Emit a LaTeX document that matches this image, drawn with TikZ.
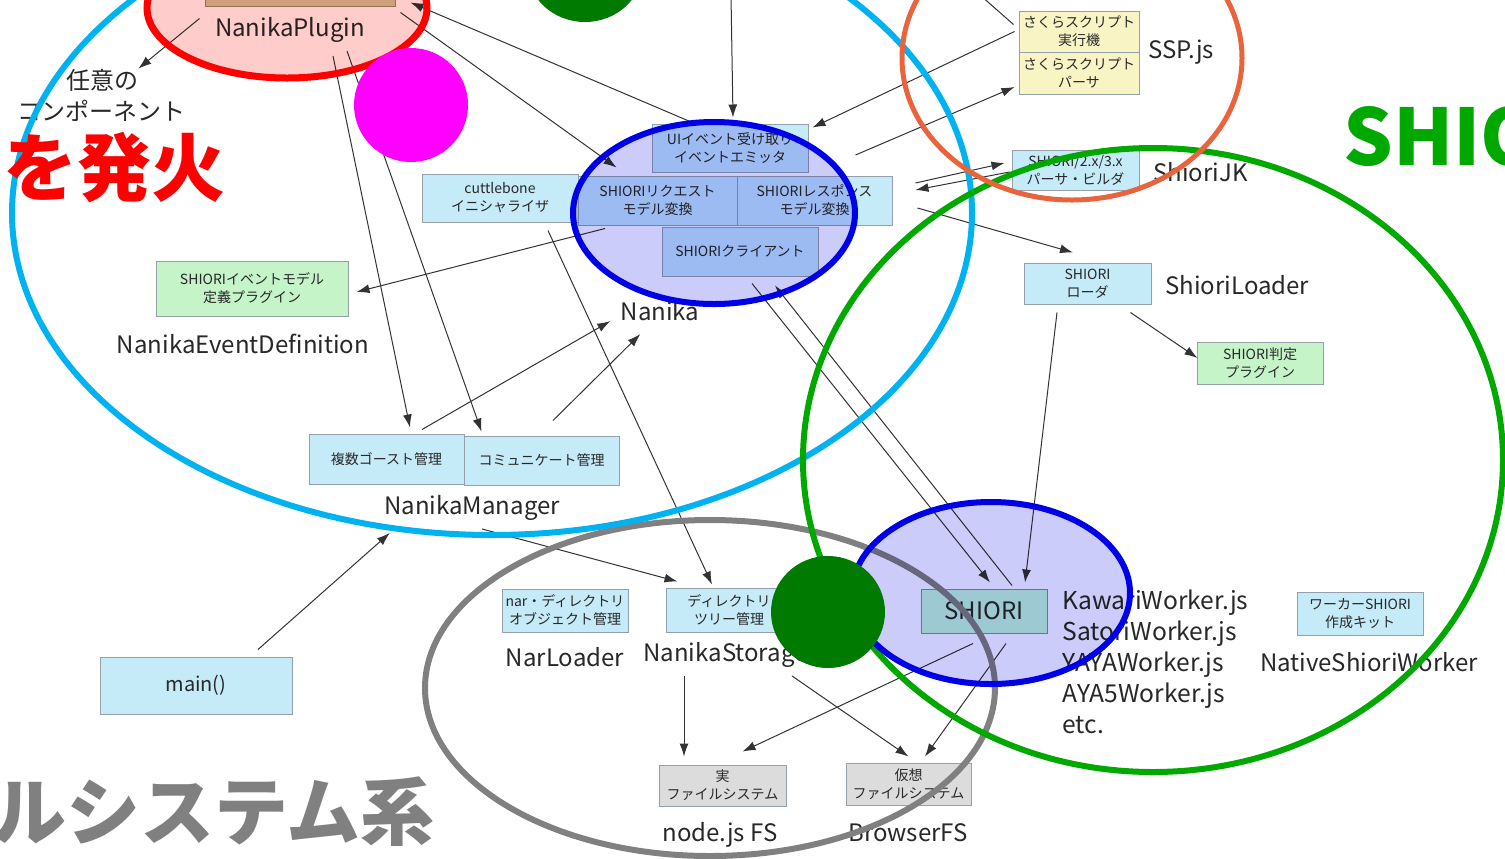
\documentclass[tikz,border=0pt]{standalone}
\usepackage{fontspec}
\setmainfont{Noto Sans CJK JP}
\usetikzlibrary{arrows.meta}
\definecolor{cyanE}{RGB}{0,178,240}
\definecolor{redE}{RGB}{255,0,0}
\definecolor{blueE}{RGB}{0,0,230}
\definecolor{orangeE}{RGB}{232,100,60}
\definecolor{greenE}{RGB}{0,168,0}
\definecolor{grayE}{RGB}{128,128,128}
\definecolor{magE}{RGB}{255,0,255}
\definecolor{dkgreen}{RGB}{0,122,0}
\definecolor{boxcyan}{RGB}{197,234,248}
\definecolor{boxline}{RGB}{150,160,170}
\definecolor{boxgreen}{RGB}{196,244,200}
\definecolor{boxyellow}{RGB}{248,244,196}
\definecolor{boxgray}{RGB}{220,220,220}
\definecolor{boxtan}{RGB}{208,200,156}
\definecolor{boxteal}{RGB}{197,252,216}
\definecolor{overblue}{RGB}{204,204,250}
\definecolor{overpink}{RGB}{255,204,204}
\definecolor{txt}{RGB}{40,40,40}
\begin{document}
\begin{tikzpicture}[x=0.5pt,y=-0.5pt,
  box/.style={draw=boxline, line width=0.5pt, fill=boxcyan, inner sep=0pt, align=center,
    font=\fontsize{7pt}{9pt}\selectfont, text=txt},
  lab/.style={inner sep=0pt, font=\fontsize{12pt}{14pt}\selectfont, text=txt},
  arr/.style={draw=black!80, line width=0.5pt, -{Latex[length=6.5pt,width=4.5pt]}},
  plain/.style={draw=black!80, line width=0.5pt},
  bigE/.style={line width=3pt},
  bigtext/.style={inner sep=0pt, font=\fontsize{37pt}{40pt}\selectfont\bfseries}
]
\useasboundingbox (0,0) rectangle (1505,858);
\fill[white] (0,0) rectangle (1505,858);

% ---------- boxes ----------
\node[box, fill=boxtan, draw=boxtan!70!black, minimum width=95pt, minimum height=23pt] (plugbox) at (300,-17) {};
\node[box, minimum width=78pt, minimum height=24pt] (ui) at (730,148) {UIイベント受け取り\\イベントエミッタ};
\node[box, minimum width=78pt, minimum height=24pt] (cuttle) at (500,198) {cuttlebone\\イニシャライザ};
\node[box, minimum width=79.5pt, minimum height=24.5pt] (req) at (657.5,200.5) {SHIORIリクエスト\\モデル変換};
\node[box, minimum width=77.5pt, minimum height=24.5pt] (res) at (814.5,200.5) {SHIORIレスポンス\\モデル変換};
\node[box, minimum width=78pt, minimum height=24.5pt] (client) at (740,251.5) {SHIORIクライアント};
\node[box, fill=boxgreen, minimum width=96pt, minimum height=27.5pt] (evdef) at (252,288.5) {SHIORIイベントモデル\\定義プラグイン};
\node[box, minimum width=77.5pt, minimum height=25pt] (ghost) at (386.5,459) {複数ゴースト管理};
\node[box, minimum width=77.5pt, minimum height=24.5pt] (comm) at (541.5,460.5) {コミュニケート管理};
\node[box, minimum width=96pt, minimum height=28.5pt, font=\fontsize{10pt}{12pt}\selectfont] (main) at (196,685.5) {main()};
\node[box, minimum width=63pt, minimum height=21.5pt] (nar) at (565,610.5) {nar・ディレクトリ\\オブジェクト管理};
\node[box, minimum width=63pt, minimum height=22pt] (dir) at (729,610) {ディレクトリ\\ツリー管理};
\node[box, fill=boxgray, minimum width=63.5pt, minimum height=20.5pt] (realfs) at (722.5,785.5) {実\\ファイルシステム};
\node[box, fill=boxgray, minimum width=62.5pt, minimum height=21pt] (virtfs) at (908.5,784) {仮想\\ファイルシステム};
\node[box, fill=boxteal, draw=black!45, minimum width=63pt, minimum height=22pt, font=\fontsize{12pt}{14pt}\selectfont] (shiori) at (984,611) {SHIORI};
\node[box, minimum width=63pt, minimum height=21.5pt] (kit) at (1360,613.5) {ワーカーSHIORI\\作成キット};
\node[box, minimum width=63.5pt, minimum height=20.5pt] (loader) at (1087.5,283.5) {SHIORI\\ローダ};
\node[box, fill=boxgreen, minimum width=63pt, minimum height=21pt] (judge) at (1260,363) {SHIORI判定\\プラグイン};
\node[box, minimum width=63.5pt, minimum height=20pt] (jk) at (1075.5,170) {SHIORI/2.x/3.x\\パーサ・ビルダ};
\node[box, fill=boxyellow, minimum width=60pt, minimum height=20.5pt] (sak1) at (1079,31.5) {さくらスクリプト\\実行機};
\node[box, fill=boxyellow, minimum width=60pt, minimum height=21pt] (sak2) at (1079,73) {さくらスクリプト\\パーサ};

% ---------- labels ----------
\node[lab] (lplug) at (290,30) {NanikaPlugin};
\node[lab] (nin1) at (102,80) {任意の};
\node[lab] (nin2) at (102,111) {コンポーネント};
\node[lab] (lnanika) at (660,311) {Nanika};
\node[lab] (levdef) at (243,344) {NanikaEventDefinition};
\node[lab] (lmgr) at (472,508) {NanikaManager};
\node[lab] (lnar) at (565,657) {NarLoader};
\node[lab, anchor=west] (lstor) at (643,655) {NanikaStorage};
\node[lab] (lnode) at (720,835) {node.js FS};
\node[lab] (lbfs) at (908,833) {BrowserFS};
\node[lab, anchor=west, align=left, font=\fontsize{12.3pt}{15.5pt}\selectfont] (workers) at (1062,662) {KawariWorker.js\\SatoriWorker.js\\YAYAWorker.js\\AYA5Worker.js\\etc.};
\node[lab, anchor=west] (lnative) at (1260,662) {NativeShioriWorker};
\node[lab, anchor=west] (lloader) at (1165,285) {ShioriLoader};
\node[lab, anchor=west] (ljk) at (1153,172) {ShioriJK};
\node[lab, anchor=west] (lssp) at (1148,52) {SSP.js};

\coordinate (ctop) at (731,-5);
\coordinate (ctop2) at (980,-5);

% ---------- connectors ----------
\draw[arr] ([xshift=-2.5pt,yshift=-6pt]plugbox.south west) -- (nin1.north east);
\draw[arr] ([xshift=-20pt,yshift=1pt]ui.north) -- ([xshift=7.5pt,yshift=2pt]plugbox.south east);
\draw[arr] ([xshift=2.5pt,yshift=-3pt]plugbox.south east) -- ([xshift=19.5pt,yshift=4pt]req.north west);
\draw[arr] ([xshift=21.5pt,yshift=-6.5pt]lplug.south) -- ([xshift=11.75pt,yshift=3pt]ghost.north);
\draw[arr] ([xshift=28.5pt,yshift=-4pt]lplug.south) -- ([xshift=9pt,yshift=2pt]comm.north west);
\draw[arr] ([xshift=-26.25pt,yshift=-1.5pt]req.south) -- ([xshift=4pt,yshift=-1.75pt]evdef.east);
\draw[arr] ([xshift=17.75pt,yshift=2pt]ghost.north) -- ([xshift=-5pt]lnanika.south west);
\draw[arr] ([xshift=5.75pt,yshift=7.5pt]comm.north) -- ([xshift=10pt,yshift=-6.5pt]lnanika.south west);
\draw[arr] ([xshift=24pt,yshift=-4pt]cuttle.south) -- ([xshift=-8.5pt,yshift=1.5pt]dir.north);
\draw[arr] (ctop) -- ([xshift=1.5pt,yshift=3pt]ui.north);
\draw[arr] ([xshift=-2pt]sak1.west) -- ([xshift=2pt,yshift=-2pt]ui.north east);
\draw[arr] ([xshift=23.5pt,yshift=-3.5pt]ui.east) -- ([xshift=-2pt,yshift=-7pt]sak2.west);
\draw[plain] (ctop2) -- ([xshift=-2.5pt,yshift=3.5pt]sak1.west);
\draw[arr] ([xshift=11.5pt,yshift=8.75pt]res.east) -- ([xshift=-3.5pt,yshift=3.5pt]jk.west);
\draw[arr] ([xshift=-1pt,yshift=-1pt]jk.west) -- ([xshift=11.5pt,yshift=5.25pt]res.east);
\draw[arr] ([xshift=12.5pt,yshift=-3.75pt]res.east) -- ([xshift=-7.25pt,yshift=5pt]loader.north);
\draw[arr] ([xshift=-10.5pt,yshift=-4pt]loader.south east) -- ([xshift=0.5pt,yshift=2.5pt]judge.west);
\draw[arr] ([xshift=-15.25pt,yshift=-4pt]loader.south) -- ([xshift=20.5pt,yshift=3pt]shiori.north);
\draw[arr] ([xshift=6pt,yshift=-3.5pt]client.south) -- ([xshift=3pt,yshift=3pt]shiori.north);
\draw[arr] ([xshift=14pt,yshift=1.5pt]shiori.north) -- ([xshift=17.5pt,yshift=-4.5pt]client.south);
\draw[arr] ([xshift=5pt,yshift=-4pt]lmgr.south) -- ([xshift=6pt,yshift=3pt]dir.north west);
\draw[arr] ([xshift=31pt,yshift=3.5pt]main.north) -- ([xshift=3pt,yshift=-6pt]lmgr.south west);
\draw[arr] ([xshift=20.5pt,yshift=-4pt]lstor.south west) -- ([xshift=-19.25pt,yshift=4pt]realfs.north);
\draw[arr] ([xshift=74.5pt,yshift=-4pt]lstor.south west) -- ([yshift=3pt]virtfs.north);
\draw[arr] ([xshift=-5.5pt,yshift=-5pt]shiori.south) -- ([xshift=10pt,yshift=6.5pt]realfs.north);
\draw[arr] ([xshift=11pt,yshift=-5pt]shiori.south) -- ([xshift=8.25pt,yshift=3pt]virtfs.north);

% ---------- big outline ellipses ----------
\draw[bigE, grayE] (710,688) ellipse [x radius=142.5pt, y radius=84pt];
\draw[bigE, cyanE] (492,213) ellipse [x radius=240pt, y radius=161pt];
\draw[bigE, greenE] (1153,460) ellipse [x radius=175pt, y radius=156pt];
\draw[line width=2.5pt, orangeE] (1072,58) ellipse [x radius=85pt, y radius=71pt];

% ---------- tinted groups ----------
\begin{scope}[blend mode=multiply]
\fill[overblue] (714,213) ellipse [x radius=70.5pt, y radius=45.5pt];
\fill[overblue] (991,593) ellipse [x radius=69.5pt, y radius=45.5pt];
\fill[overpink] (287,8) ellipse [x radius=70pt, y radius=35pt];
\end{scope}
\draw[bigE, blueE] (714,213) ellipse [x radius=70.5pt, y radius=45.5pt];
\draw[bigE, blueE] (991,593) ellipse [x radius=69.5pt, y radius=45.5pt];
\draw[line width=3.5pt, redE] (287,8) ellipse [x radius=70pt, y radius=35pt];

% ---------- big captions ----------
\node[bigtext, text=redE, anchor=west] (tfire) at (3,168) {を発火};
\node[bigtext, text=greenE, anchor=west, font=\fontsize{39pt}{42pt}\selectfont\bfseries] (tshio) at (1343,136) {SHIO};
\node[bigtext, text=grayE, anchor=west] (tfs) at (-8,812) {ルシステム系};

% ---------- dots ----------
\fill[magE] (411,105) circle [radius=28.5pt];
\fill[dkgreen] (585,-32) ellipse [x radius=29pt, y radius=27pt];
\fill[dkgreen] (828,612) ellipse [x radius=28.5pt, y radius=28pt];
\end{tikzpicture}
\end{document}
